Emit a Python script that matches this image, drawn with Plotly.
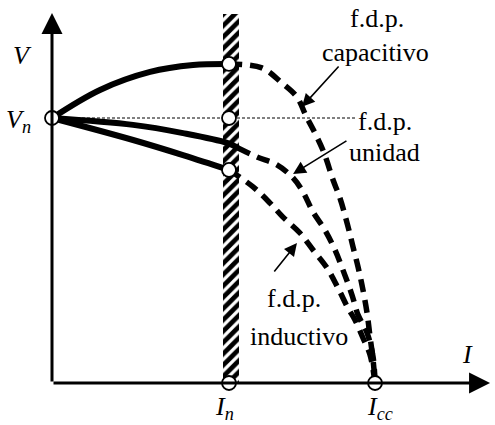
import plotly.graph_objects as go

# Per-unit values: current I/In, voltage V/Vn
I_CC = 1.825

# Solid branches up to rated current
cap_solid_i = [0.0, 0.271, 0.554, 0.797, 1.0]
cap_solid_v = [1.0, 1.106, 1.174, 1.200, 1.204]
uni_solid_i = [0.0, 0.458, 0.740, 0.989, 1.051]
uni_solid_v = [1.0, 0.974, 0.943, 0.906, 0.887]
ind_solid_i = [0.0, 0.458, 0.740, 1.0]
ind_solid_v = [1.0, 0.917, 0.860, 0.804]

# Dashed branches from rated current to short circuit
cap_dash_i = [1.0, 1.186, 1.299, 1.384, 1.435, 1.486, 1.537, 1.588, 1.627,
              1.667, 1.701, 1.729, 1.757, 1.780, 1.797, 1.814, 1.825]
cap_dash_v = [1.204, 1.189, 1.132, 1.079, 1.008, 0.943, 0.868, 0.766, 0.698,
              0.604, 0.513, 0.438, 0.351, 0.264, 0.174, 0.087, 0.0]
uni_dash_i = [1.051, 1.158, 1.271, 1.362, 1.418, 1.475, 1.542, 1.599, 1.644,
              1.695, 1.729, 1.780, 1.814, 1.825]
uni_dash_v = [0.887, 0.853, 0.823, 0.774, 0.721, 0.645, 0.577, 0.502, 0.426,
              0.332, 0.257, 0.189, 0.098, 0.0]
ind_dash_i = [1.0, 1.136, 1.232, 1.305, 1.401, 1.475, 1.554, 1.616, 1.672,
              1.712, 1.757, 1.797, 1.825]
ind_dash_v = [0.804, 0.740, 0.679, 0.626, 0.566, 0.502, 0.434, 0.358, 0.283,
              0.238, 0.170, 0.106, 0.0]

# Open-circle key points
key_i = [0.0, 1.0, 1.0, 1.0, 1.0, I_CC]
key_v = [1.0, 1.204, 1.0, 0.804, 0.0, 0.0]

FONT = "Liberation Serif, Times New Roman, serif"

fig = go.Figure()

# Hatched band at rated current
fig.add_trace(go.Bar(
    x=[1.011], y=[1.392], width=[0.090],
    marker=dict(color="white", line=dict(width=0),
                pattern=dict(shape="/", fgcolor="black", bgcolor="white",
                             fgopacity=1, size=8, solidity=0.6)),
    hoverinfo="skip", showlegend=False))

# Thin reference line at rated voltage
fig.add_trace(go.Scatter(x=[0.0, 1.712], y=[1.0, 1.0], mode="lines",
                         line=dict(color="black", width=1, dash="3px,2px"),
                         showlegend=False))

for xs, ys in [(cap_solid_i, cap_solid_v), (uni_solid_i, uni_solid_v),
               (ind_solid_i, ind_solid_v)]:
    fig.add_trace(go.Scatter(x=xs, y=ys, mode="lines",
                             line=dict(color="black", width=6, shape="spline"),
                             showlegend=False))

for xs, ys in [(cap_dash_i, cap_dash_v), (uni_dash_i, uni_dash_v),
               (ind_dash_i, ind_dash_v)]:
    fig.add_trace(go.Scatter(x=xs, y=ys, mode="lines",
                             line=dict(color="black", width=5.5, shape="spline",
                                       dash="13px,8px"),
                             showlegend=False))

fig.add_trace(go.Scatter(x=key_i, y=key_v, mode="markers",
                         marker=dict(size=14, color="white",
                                     line=dict(color="black", width=1.8)),
                         showlegend=False))

annotations = []

# Coordinate axes with arrowheads
for (x, y) in [(0.0, 1.396), (2.475, 0.0)]:
    annotations.append(dict(x=x, y=y, ax=0.0, ay=0.0, xref="x", yref="y",
                            axref="x", ayref="y", text="", showarrow=True,
                            arrowhead=2, arrowsize=1.4, arrowwidth=3,
                            arrowcolor="black", standoff=0, startstandoff=0))

# Pointer arrows for the power-factor labels
for (x, y, ax, ay) in [(1.412, 1.042, 1.627, 1.200),
                       (1.362, 0.789, 1.672, 0.917),
                       (1.384, 0.528, 1.249, 0.415)]:
    annotations.append(dict(x=x, y=y, ax=ax, ay=ay, xref="x", yref="y",
                            axref="x", ayref="y", text="", showarrow=True,
                            arrowhead=2, arrowsize=1.6, arrowwidth=1.6,
                            arrowcolor="black", standoff=0, startstandoff=0))

texts = [
    ("f.d.p.", 1.836, 1.375), ("capacitivo", 1.825, 1.249),
    ("f.d.p.", 1.881, 0.985), ("unidad", 1.881, 0.868),
    ("f.d.p.", 1.367, 0.318), ("inductivo", 1.395, 0.174),
]
for t, x, y in texts:
    annotations.append(dict(x=x, y=y, xref="x", yref="y", text=t,
                            showarrow=False,
                            font=dict(family=FONT, size=26, color="black")))

axis_labels = [
    ("<i>V</i>", -0.164, 1.234),
    ("<i>V</i><sub><i>n</i></sub>", -0.192, 0.989),
    ("<i>I</i><sub><i>n</i></sub>", 0.977, -0.094),
    ("<i>I</i><sub><i>cc</i></sub>", 1.853, -0.094),
    ("<i>I</i>", 2.345, 0.106),
]
for t, x, y in axis_labels:
    annotations.append(dict(x=x, y=y, xref="x", yref="y", text=t,
                            showarrow=False,
                            font=dict(family=FONT, size=26, color="black")))

fig.update_layout(
    width=495, height=425,
    margin=dict(l=0, r=0, t=0, b=0),
    paper_bgcolor="white", plot_bgcolor="white",
    xaxis=dict(range=[-0.2938, 2.5028], visible=False, fixedrange=True),
    yaxis=dict(range=[-0.1585, 1.4453], visible=False, fixedrange=True),
    annotations=annotations,
    showlegend=False,
    bargap=0,
)

fig.write_html("out.html")
